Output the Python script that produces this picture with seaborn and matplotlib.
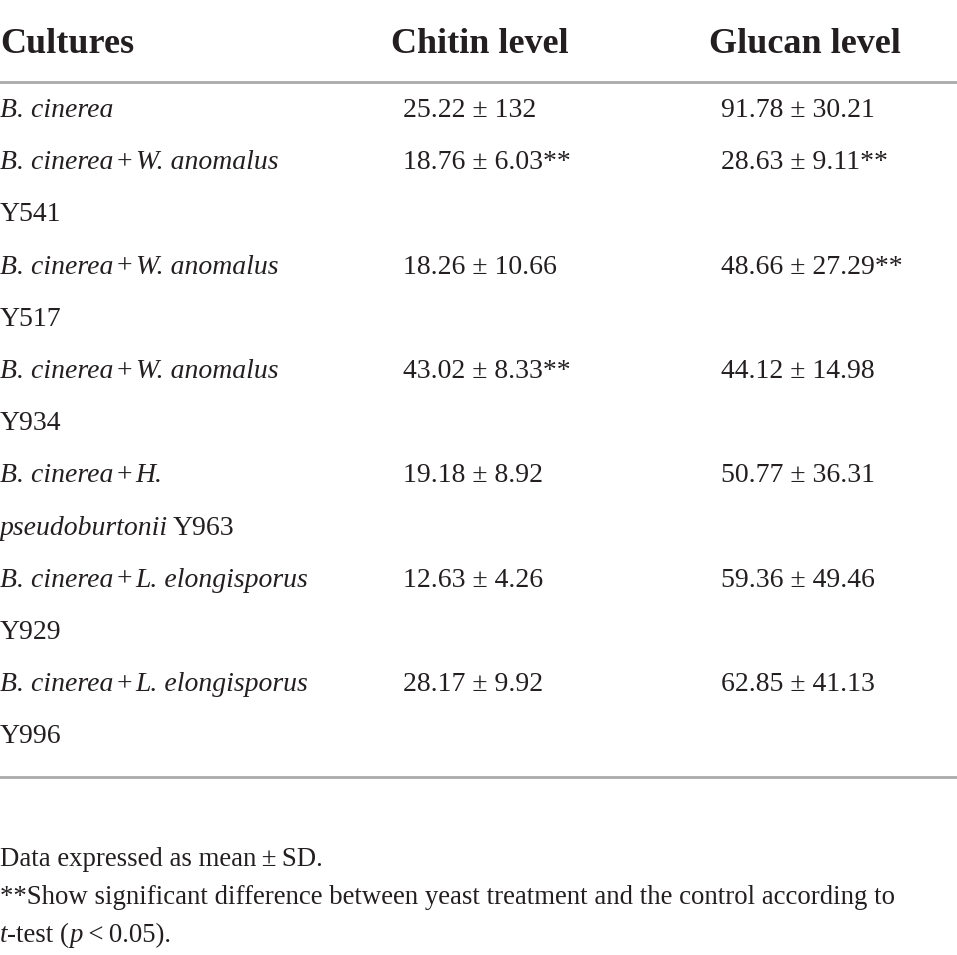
import matplotlib
matplotlib.use("Agg")
import matplotlib.pyplot as plt
import seaborn as sns

# table content
columns = ["Cultures", "Chitin level", "Glucan level"]
host = "B. cinerea"
yeast_species = [None, "W. anomalus", "W. anomalus", "W. anomalus",
                 "H. pseudoburtonii", "L. elongisporus", "L. elongisporus"]
yeast_strain = [None, "Y541", "Y517", "Y934", "Y963", "Y929", "Y996"]
chitin_mean = [25.22, 18.76, 18.26, 43.02, 19.18, 12.63, 28.17]
chitin_sd = [132, 6.03, 10.66, 8.33, 8.92, 4.26, 9.92]
chitin_sig = [False, True, False, True, False, False, False]
glucan_mean = [91.78, 28.63, 48.66, 44.12, 50.77, 59.36, 62.85]
glucan_sd = [30.21, 9.11, 27.29, 14.98, 36.31, 49.46, 41.13]
glucan_sig = [False, True, True, False, False, False, False]

sns.set_theme(style="white")
plt.rcParams["font.family"] = ["Liberation Serif", "DejaVu Serif"]

INK = "#231f20"
RULE = "#aaaaaa"
W, H = 957, 955
fig = plt.figure(figsize=(W / 100, H / 100), dpi=100)
ax = fig.add_axes([0, 0, 1, 1])
ax.set_xlim(0, W)
ax.set_ylim(H, 0)
ax.axis("off")
renderer = fig.canvas.get_renderer()

BODY = 20
HEAD = 26
NOTE = 19.3
col_x = [0, 403, 721]
head_x = [0, 391, 709]
row_base = 117
row_step = 52.2
wrap_w = 320
em = BODY * 100 / 72


def put(x, y, s, size, style="normal", weight="normal"):
    t = ax.text(x, y, s, fontsize=size, fontstyle=style, fontweight=weight,
                color=INK, ha="left", va="baseline")
    return t.get_window_extent(renderer).width


def measure(s, size, style="normal"):
    t = ax.text(0, 0, s, fontsize=size, fontstyle=style)
    w = t.get_window_extent(renderer).width
    t.remove()
    return w


def merge(toks):
    # join neighbouring words of the same style into one run
    runs = []
    for s, st in toks:
        if runs and runs[-1][1] == st and s != "+" and runs[-1][0] != "+":
            runs[-1] = (runs[-1][0] + " " + s, st)
        else:
            runs.append((s, st))
    return runs


def gap_between(a, b):
    return 0.12 * em if "+" in (a, b) else 0.18 * em


def line_width(toks):
    runs = merge(toks)
    w = sum(measure(s, BODY, st) for s, st in runs)
    return w + sum(gap_between(runs[k][0], runs[k + 1][0]) for k in range(len(runs) - 1))


# header
for hx, name in zip(head_x, columns):
    put(hx, 53, name, HEAD, weight="bold")

ax.axhline(82, color=RULE, lw=2)

# rows
line = 0
for i in range(len(chitin_mean)):
    y0 = row_base + line * row_step
    toks = [(w, "italic") for w in host.split()]
    if yeast_species[i]:
        toks += [("+", "normal")]
        toks += [(w, "italic") for w in yeast_species[i].split()]
        toks += [(yeast_strain[i], "normal")]
    # greedy word wrap of the culture name
    lines = [[]]
    for tk in toks:
        if lines[-1] and line_width(lines[-1] + [tk]) > wrap_w:
            lines.append([])
        lines[-1].append(tk)
    for k, ln in enumerate(lines):
        runs = merge(ln)
        x = 0
        for j, (s, st) in enumerate(runs):
            if j:
                x += gap_between(runs[j - 1][0], s)
            x += put(x, y0 + k * row_step, s, BODY, style=st)
    chit = f"{chitin_mean[i]:.2f} \u00b1 {chitin_sd[i]:g}" + ("**" if chitin_sig[i] else "")
    gluc = f"{glucan_mean[i]:.2f} \u00b1 {glucan_sd[i]:g}" + ("**" if glucan_sig[i] else "")
    put(col_x[1], y0, chit, BODY)
    put(col_x[2], y0, gluc, BODY)
    line += len(lines)

ax.axhline(777, color=RULE, lw=2)

# footnotes
put(0, 866, "Data expressed as mean\u2009\u00b1\u2009SD.", NOTE)
put(0, 904, "**Show significant difference between yeast treatment and the control according to", NOTE)
x = put(0, 942, "t", NOTE, style="italic")
x += put(x, 942, "-test (", NOTE)
x += put(x, 942, "p", NOTE, style="italic")
put(x, 942, "\u2009<\u20090.05).", NOTE)

fig.savefig("out.png", dpi=100)
